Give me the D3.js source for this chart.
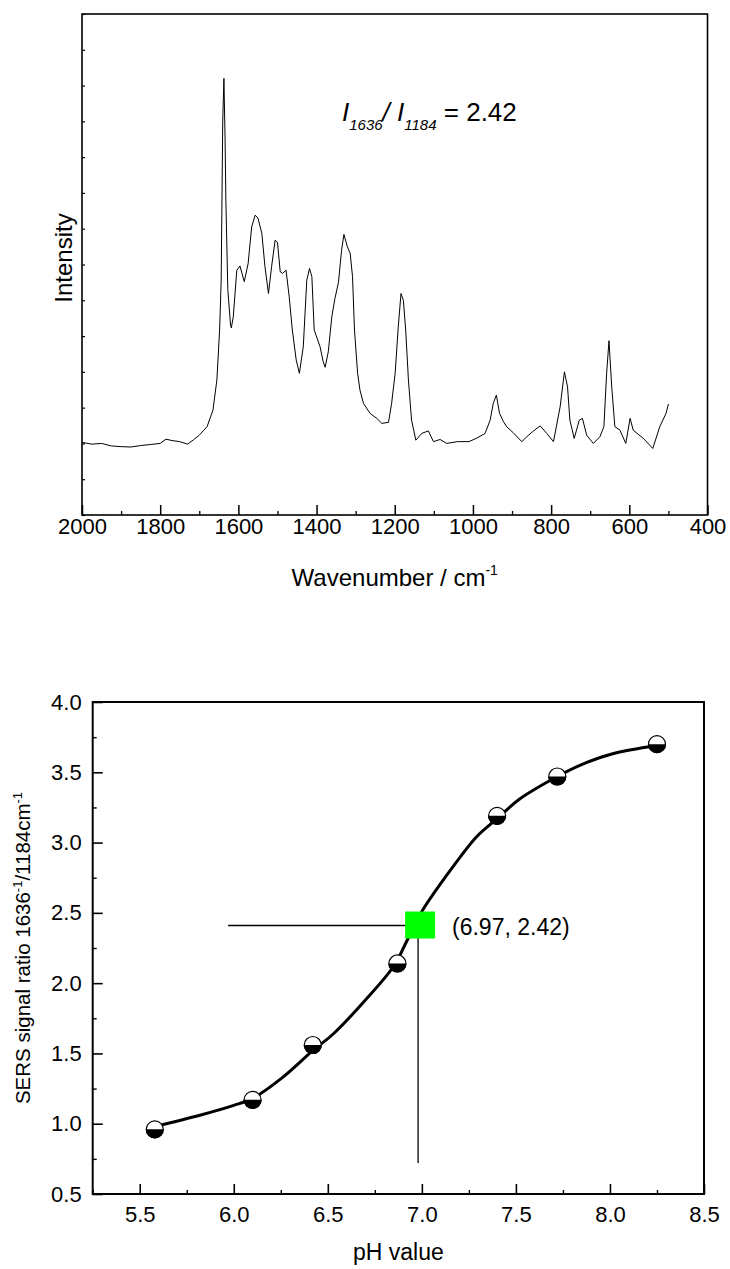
<!DOCTYPE html>
<html>
<head>
    <title>SERS spectrum and pH calibration</title>
    <script src="https://cdnjs.cloudflare.com/ajax/libs/d3/7.8.5/d3.min.js"></script>
    <style>
        body {
            margin: 0;
            padding: 0;
            background: white;
        }
        svg text {
            font-family: "Liberation Sans", Arial, Helvetica, sans-serif;
            fill: black;
        }
    </style>
</head>
<body>
    <svg id="chart" width="730" height="1269"></svg>

    <script>
        // Spectrum (arbitrary intensity units)
        const wavenumbers = [2000, 1975, 1950, 1925, 1900, 1875, 1850, 1825, 1800, 1785, 1770, 1750, 1730, 1715,
            1700, 1680, 1665, 1655, 1648, 1644, 1642, 1640, 1637, 1634, 1632, 1627, 1620, 1618, 1613, 1604, 1596,
            1585, 1575, 1566, 1557, 1550, 1540, 1532, 1523, 1515, 1506, 1500, 1493, 1487, 1478, 1470, 1462,
            1452, 1444, 1434, 1425, 1418, 1412, 1406, 1391, 1383, 1378, 1370, 1361, 1353, 1344, 1336, 1330,
            1321, 1314, 1308, 1303, 1295, 1289, 1280, 1263, 1246, 1233, 1216, 1208, 1199, 1191, 1184, 1178,
            1172, 1165, 1157, 1146, 1131, 1114, 1101, 1084, 1067, 1040, 1010, 990, 969, 956, 948, 940, 932,
            922, 914, 897, 875, 862, 845, 828, 811, 794, 777, 766, 758, 752, 741, 728, 720, 709, 692, 675,
            665, 658, 652, 645, 637, 624, 609, 598, 590, 564, 540, 522, 506, 500];
        const intensity = [2.03, 1.98, 2.00, 1.93, 1.91, 1.90, 1.94, 1.97, 2.00, 2.12, 2.08, 2.05, 1.98, 2.10,
            2.23, 2.47, 2.93, 3.77, 5.17, 6.56, 8.8, 11.0, 12.2, 10.5, 8.8, 6.3, 5.3, 5.23, 5.54, 6.84, 6.96,
            6.52, 7.03, 8.05, 8.38, 8.30, 7.87, 6.94, 6.19, 6.94, 7.68, 7.62, 6.80, 6.75, 6.84, 6.10, 5.17,
            4.33, 3.96, 4.70, 6.56, 6.89, 6.66, 5.17, 4.70, 4.28, 4.13, 4.56, 5.54, 6.05, 6.50, 7.40, 7.84,
            7.49, 7.31, 6.66, 5.17, 3.96, 3.49, 3.12, 2.84, 2.70, 2.56, 2.59, 3.12, 3.96, 5.26, 6.19, 6.00,
            5.17, 3.77, 2.65, 2.09, 2.28, 2.35, 2.05, 2.11, 2.00, 2.05, 2.05, 2.15, 2.28, 2.65, 3.12, 3.35, 2.84,
            2.61, 2.47, 2.30, 2.05, 2.19, 2.35, 2.49, 2.28, 2.05, 3.02, 4.00, 3.58, 2.65, 2.14, 2.65, 2.70, 2.23, 2.00, 2.19,
            2.47, 3.96, 4.87, 3.58, 2.47, 2.37, 2.00, 2.70, 2.37, 2.14, 1.86, 2.47, 2.84, 3.10];
        const wnTicks = [2000, 1800, 1600, 1400, 1200, 1000, 800, 600, 400];
        const intensityTicks = [0, 1, 2, 3, 4, 5, 6, 7, 8, 9, 10, 11, 12, 13, 14];

        // Calibration points
        const phValues = [5.58, 6.10, 6.42, 6.87, 7.40, 7.72, 8.25];
        const ratioValues = [0.96, 1.17, 1.56, 2.14, 3.19, 3.47, 3.70];
        // Fitted curve
        const fitPh = [5.58, 5.82, 6.00, 6.10, 6.26, 6.42, 6.53, 6.70, 6.85, 6.92, 7.00, 7.15, 7.29, 7.40, 7.52, 7.72, 7.84, 8.01, 8.25];
        const fitRatio = [0.98, 1.06, 1.13, 1.18, 1.33, 1.52, 1.64, 1.88, 2.12, 2.30, 2.51, 2.80, 3.04, 3.17, 3.31, 3.47, 3.55, 3.63, 3.69];
        const phTicks = [5.5, 6.0, 6.5, 7.0, 7.5, 8.0, 8.5];
        const ratioTicks = [0.5, 1.0, 1.5, 2.0, 2.5, 3.0, 3.5, 4.0];
        // Read-out of the unknown sample
        const crossPh = 6.98;
        const crossRatio = 2.41;
        const guidePhStart = 5.97;
        const guideRatioStart = 0.72;
        const crossLabel = '(6.97, 2.42)';

        const svg = d3.select('#chart');

        // ---------- upper panel: spectrum ----------
        const topG = svg.append('g');
        const x1 = d3.scaleLinear().domain([2000, 400]).range([82, 707.5]);
        const y1 = d3.scaleLinear().domain([0, 14]).range([515, 14]);

        topG.append('rect')
            .attr('x', x1(2000)).attr('y', y1(14))
            .attr('width', x1(400) - x1(2000)).attr('height', y1(0) - y1(14))
            .attr('fill', 'none').attr('stroke', 'black').attr('stroke-width', 1.6);

        // minor x ticks
        topG.append('g')
            .attr('transform', `translate(0,${y1(0)})`)
            .call(d3.axisBottom(x1).tickValues(d3.range(1900, 400, -200)).tickSize(-4).tickFormat(''))
            .call(g => g.select('.domain').remove())
            .call(g => g.selectAll('line').attr('stroke-width', 1.3));

        topG.append('g')
            .attr('transform', `translate(0,${y1(0)})`)
            .call(d3.axisBottom(x1).tickValues(wnTicks).tickSize(-10).tickPadding(3).tickFormat(d3.format('d')))
            .call(g => g.select('.domain').remove())
            .call(g => g.selectAll('line').attr('stroke-width', 1.5))
            .call(g => g.selectAll('text').attr('font-size', 22));

        topG.append('g')
            .attr('transform', `translate(${x1(2000)},0)`)
            .call(d3.axisLeft(y1).tickValues(intensityTicks).tickSize(-3).tickFormat(''))
            .call(g => g.select('.domain').remove())
            .call(g => g.selectAll('line').attr('stroke-width', 1.2));

        const spectrum = wavenumbers.map((w, i) => [w, intensity[i]]);
        topG.append('path')
            .datum(spectrum)
            .attr('fill', 'none')
            .attr('stroke', 'black')
            .attr('stroke-width', 1)
            .attr('stroke-linejoin', 'round')
            .attr('d', d3.line().x(d => x1(d[0])).y(d => y1(d[1])));

        // axis titles
        const wnTitle = topG.append('text')
            .attr('x', (x1(2000) + x1(400)) / 2)
            .attr('y', 586)
            .attr('text-anchor', 'middle')
            .attr('font-size', 24);
        wnTitle.append('tspan').text('Wavenumber / cm');
        wnTitle.append('tspan').attr('font-size', 14).attr('dy', -11).text('-1');

        topG.append('text')
            .attr('transform', 'translate(72,258) rotate(-90)')
            .attr('text-anchor', 'middle')
            .attr('font-size', 24)
            .text('Intensity');

        // ratio annotation
        const note = topG.append('text')
            .attr('x', 342)
            .attr('y', 121)
            .attr('font-size', 26);
        note.append('tspan').attr('font-style', 'italic').text('I');
        note.append('tspan').attr('font-style', 'italic').attr('font-size', 15).attr('dy', 9).text('1636');
        note.append('tspan').attr('font-style', 'italic').attr('dy', -9).text('/ I');
        note.append('tspan').attr('font-style', 'italic').attr('font-size', 15).attr('dy', 9).text('1184');
        note.append('tspan').attr('dy', -9).text(' = 2.42');

        // ---------- lower panel: pH calibration ----------
        const botG = svg.append('g');
        const x2 = d3.scaleLinear().domain([5.25, 8.5]).range([92.7, 704]);
        const y2 = d3.scaleLinear().domain([0.5, 4.0]).range([1194, 702]);

        botG.append('rect')
            .attr('x', x2(5.25)).attr('y', y2(4.0))
            .attr('width', x2(8.5) - x2(5.25)).attr('height', y2(0.5) - y2(4.0))
            .attr('fill', 'none').attr('stroke', 'black').attr('stroke-width', 2);

        botG.append('g')
            .attr('transform', `translate(0,${y2(0.5)})`)
            .call(d3.axisBottom(x2).tickValues(d3.range(5.25, 8.5, 0.5)).tickSize(-4).tickFormat(''))
            .call(g => g.select('.domain').remove())
            .call(g => g.selectAll('line').attr('stroke-width', 1.4));

        botG.append('g')
            .attr('transform', `translate(0,${y2(0.5)})`)
            .call(d3.axisBottom(x2).tickValues(phTicks).tickSize(-10).tickPadding(12).tickFormat(d3.format('.1f')))
            .call(g => g.select('.domain').remove())
            .call(g => g.selectAll('line').attr('stroke-width', 1.6))
            .call(g => g.selectAll('text').attr('font-size', 22));

        botG.append('g')
            .attr('transform', `translate(${x2(5.25)},0)`)
            .call(d3.axisLeft(y2).tickValues(d3.range(0.75, 4.0, 0.5)).tickSize(-4).tickFormat(''))
            .call(g => g.select('.domain').remove())
            .call(g => g.selectAll('line').attr('stroke-width', 1.4));

        botG.append('g')
            .attr('transform', `translate(${x2(5.25)},0)`)
            .call(d3.axisLeft(y2).tickValues(ratioTicks).tickSize(-10).tickPadding(11).tickFormat(d3.format('.1f')))
            .call(g => g.select('.domain').remove())
            .call(g => g.selectAll('line').attr('stroke-width', 1.6))
            .call(g => g.selectAll('text').attr('font-size', 22));

        // read-out guide lines
        botG.append('line')
            .attr('x1', x2(guidePhStart)).attr('x2', x2(crossPh))
            .attr('y1', y2(crossRatio)).attr('y2', y2(crossRatio))
            .attr('stroke', 'black').attr('stroke-width', 1.3);
        botG.append('line')
            .attr('x1', x2(crossPh)).attr('x2', x2(crossPh))
            .attr('y1', y2(crossRatio)).attr('y2', y2(guideRatioStart))
            .attr('stroke', 'black').attr('stroke-width', 1.3);

        // fitted curve
        const fit = fitPh.map((p, i) => [p, fitRatio[i]]);
        botG.append('path')
            .datum(fit)
            .attr('fill', 'none')
            .attr('stroke', 'black')
            .attr('stroke-width', 3)
            .attr('d', d3.line().curve(d3.curveCatmullRom).x(d => x2(d[0])).y(d => y2(d[1])));

        // half-filled circle markers
        const r = 8.5;
        const pts = botG.selectAll('g.pt')
            .data(phValues.map((p, i) => [p, ratioValues[i]]))
            .join('g')
            .attr('class', 'pt')
            .attr('transform', d => `translate(${x2(d[0])},${y2(d[1])})`);
        pts.append('circle')
            .attr('r', r)
            .attr('fill', 'white')
            .attr('stroke', 'black')
            .attr('stroke-width', 1.2);
        pts.append('path')
            .attr('d', `M${-r - 0.6},0A${r + 0.6},${r + 0.6} 0 0 0 ${r + 0.6},0Z`)
            .attr('fill', 'black');

        // green read-out square
        botG.append('rect')
            .attr('x', x2(crossPh) - 13)
            .attr('y', y2(crossRatio) - 14)
            .attr('width', 30)
            .attr('height', 27)
            .attr('fill', '#00ff00');

        botG.append('text')
            .attr('x', 452)
            .attr('y', 935)
            .attr('font-size', 23)
            .text(crossLabel);

        // axis titles
        botG.append('text')
            .attr('x', (x2(5.25) + x2(8.5)) / 2)
            .attr('y', 1260)
            .attr('text-anchor', 'middle')
            .attr('font-size', 23)
            .text('pH value');

        const ratioTitle = botG.append('text')
            .attr('transform', `translate(30,${(y2(0.5) + y2(4.0)) / 2}) rotate(-90)`)
            .attr('text-anchor', 'middle')
            .attr('font-size', 20.5);
        ratioTitle.append('tspan').text('SERS signal ratio 1636');
        ratioTitle.append('tspan').attr('font-size', 13).attr('dy', -8).text('-1');
        ratioTitle.append('tspan').attr('dy', 8).text('/1184cm');
        ratioTitle.append('tspan').attr('font-size', 13).attr('dy', -8).text('-1');
    </script>
</body>
</html>
